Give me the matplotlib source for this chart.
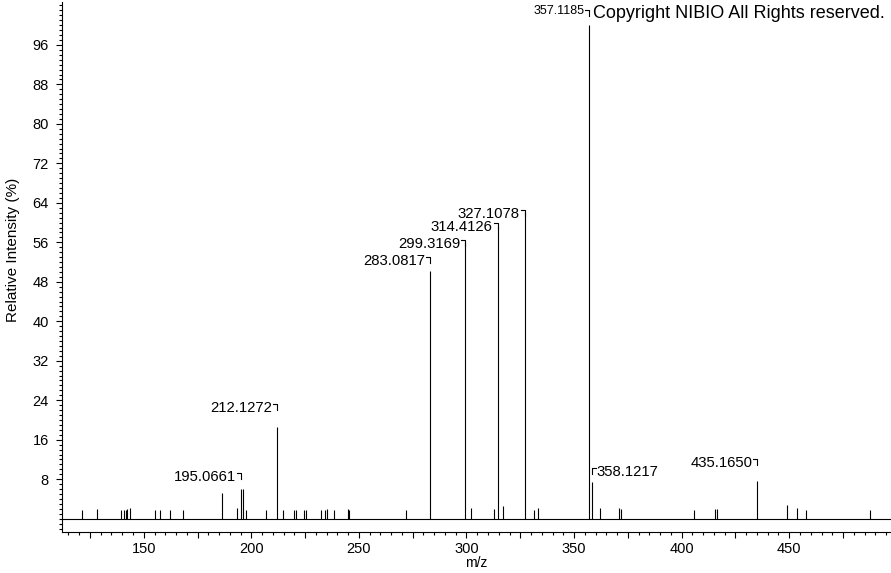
import matplotlib
matplotlib.use('Agg')
import matplotlib.pyplot as plt
import numpy as np
from matplotlib.ticker import FixedLocator, MultipleLocator, FuncFormatter

plt.rcParams['font.family'] = ['Liberation Sans', 'DejaVu Sans']

# labelled peaks (m/z, relative intensity %)
label_mz = [195.0661, 212.1272, 283.0817, 299.3169, 314.4126, 327.1078, 357.1185, 358.1217, 435.1650]
label_int = [6.0, 18.6, 50.1, 56.0, 59.4, 62.1, 100.0, 7.5, 7.7]
label_lift = [3.3, 4.6, 3.0, 0.5, 0.5, 0.5, 3.1, 2.8, 4.4]

# unlabelled peaks
small_mz = [121.2, 128.2, 139.3, 141.0, 141.6, 142.4, 143.8, 155.4, 157.7, 162.1, 168.4,
            186.3, 193.5, 196.0, 197.7, 207.0, 214.6, 220.0, 220.6, 224.6, 225.4, 232.3,
            234.4, 235.3, 238.6, 245.1, 245.6, 272.1, 302.3, 312.9, 317.1, 331.3, 333.4,
            361.9, 371.0, 371.7, 405.6, 415.7, 416.6, 448.9, 453.8, 457.7, 487.7]
small_int = [1.7, 2.0, 1.7, 1.7, 1.7, 1.9, 2.2, 1.7, 1.7, 1.7, 1.7,
             5.3, 2.1, 6.0, 1.7, 1.7, 1.7, 1.7, 1.7, 1.7, 1.7, 1.7,
             1.7, 1.9, 1.7, 2.0, 1.7, 1.7, 2.2, 2.0, 2.6, 1.8, 2.2,
             2.2, 2.2, 2.0, 1.8, 2.0, 2.0, 2.8, 2.1, 1.7, 1.8]

y_ticks = [8, 16, 24, 32, 40, 48, 56, 64, 72, 80, 88, 96]

W, H = 891, 573
fig = plt.figure(figsize=(W / 100, H / 100), dpi=100)
ax = fig.add_axes([62 / W, (H - 531.5) / H, (W - 62) / W, 529.5 / H])
ax.set_xlim(112, 497.3)
ax.set_ylim(-2.6, 104.7)

ax.vlines(small_mz, 0, small_int, colors='black', lw=0.8)
ax.vlines(label_mz, 0, label_int, colors='black', lw=0.8)
ax.axhline(0, color='black', lw=0.8)

for s in ['top', 'right']:
    ax.spines[s].set_visible(False)
for s in ['left', 'bottom']:
    ax.spines[s].set_linewidth(0.8)

ax.yaxis.set_major_locator(FixedLocator(y_ticks))
ax.yaxis.set_minor_locator(MultipleLocator(1))
ax.xaxis.set_major_locator(MultipleLocator(25))
ax.xaxis.set_minor_locator(MultipleLocator(5))
ax.xaxis.set_major_formatter(FuncFormatter(lambda v, p: '%d' % v if v % 50 == 0 else ''))
ax.tick_params(axis='both', which='major', direction='out', length=4.5, width=0.8, labelsize=10.5)
ax.tick_params(axis='both', which='minor', direction='out', length=2.2, width=0.8)
ax.tick_params(axis='y', which='major', pad=5)
ax.tick_params(axis='x', which='major', pad=3)

ax.set_xlabel('m/z', fontsize=10, labelpad=0)
ax.set_ylabel('Relative Intensity (%)', fontsize=11)
ax.yaxis.set_label_coords(-0.0507, 0.532)

# peak labels with small hook leaders
to_px = ax.transData
for i, (mz, it) in enumerate(zip(label_mz, label_int)):
    hook = it + label_lift[i]
    px = to_px.transform((mz, hook))
    left = mz == 358.1217
    side = 1 if left else -1
    pts = np.array([px + (side * 4, 0), px, px + (0, -6)])
    d = to_px.inverted().transform(pts)
    ax.plot(d[:, 0], d[:, 1], color='black', lw=0.8, clip_on=False)
    fs = 9 if it >= 100 else 10.7
    dy = -1 if it >= 100 else -4
    ax.annotate('%.4f' % mz, xy=(mz, hook), xytext=(side * 5, dy), textcoords='offset pixels',
                ha='left' if left else 'right', va='center', fontsize=fs, annotation_clip=False)

fig.text(593 / W, 1 - 13 / H, 'Copyright NIBIO All Rights reserved.', fontsize=13,
         ha='left', va='center')

fig.savefig('out.png', dpi=100)
